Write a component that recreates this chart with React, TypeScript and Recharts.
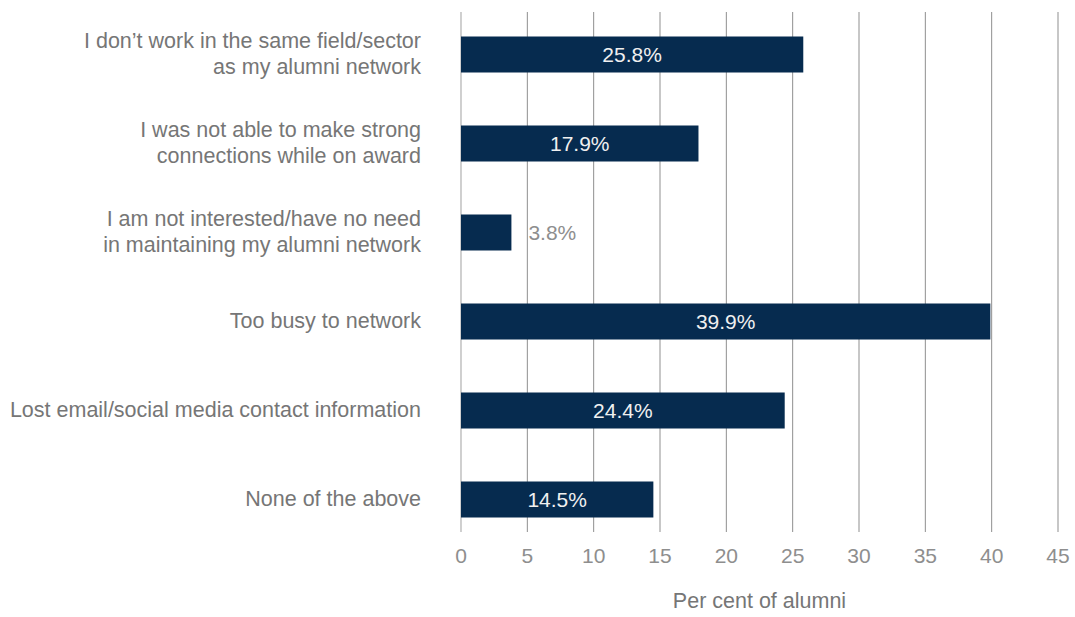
import React from 'react';
import {
  BarChart,
  Bar,
  XAxis,
  YAxis,
  CartesianGrid,
  LabelList,
} from 'recharts';

const categories = [
  "I don\u2019t work in the same field/sector\nas my alumni network",
  'I was not able to make strong\nconnections while on award',
  'I am not interested/have no need\nin maintaining my alumni network',
  'Too busy to network',
  'Lost email/social media contact information',
  'None of the above',
];
const percentages = [25.8, 17.9, 3.8, 39.9, 24.4, 14.5];
const xTicks = [0, 5, 10, 15, 20, 25, 30, 35, 40, 45];
const axisTitle = 'Per cent of alumni';

const data = categories.map((name, i) => ({ name, value: percentages[i] }));

const FONT = '"Liberation Sans", Arial, sans-serif';
const NAVY = '#062b4f';

const CategoryTick = (props: any) => {
  const { y, payload } = props;
  const lines = String(payload.value).split('\n');
  const lineH = 26.5;
  const startY = y - ((lines.length - 1) * lineH) / 2;
  return (
    <text
      x={421}
      y={startY}
      textAnchor="end"
      dominantBaseline="central"
      fontFamily={FONT}
      fontSize={21.5}
      fill="#767676"
    >
      {lines.map((l, i) => (
        <tspan key={i} x={421} dy={i === 0 ? 0 : lineH}>
          {l}
        </tspan>
      ))}
    </text>
  );
};

const ValueTick = (props: any) => {
  const { x, payload } = props;
  return (
    <text
      x={x}
      y={555}
      textAnchor="middle"
      dominantBaseline="central"
      fontFamily={FONT}
      fontSize={21}
      fill="#8e8e8e"
    >
      {payload.value}
    </text>
  );
};

const BarValueLabel = (props: any) => {
  const { x, y, width, height, value } = props;
  const inside = value >= 10;
  return (
    <text
      x={inside ? x + width / 2 : x + width + 17}
      y={y + height / 2}
      textAnchor={inside ? 'middle' : 'start'}
      dominantBaseline="central"
      fontFamily={FONT}
      fontSize={21}
      fill={inside ? '#f0f0f0' : '#8e8e8e'}
    >
      {value.toFixed(1)}%
    </text>
  );
};

const GridLine = (props: any) => {
  const { x1, x2 } = props;
  const isZero = x1 < 462;
  return (
    <line
      key={props.key}
      x1={x1}
      x2={x2}
      y1={12}
      y2={532}
      stroke={isZero ? '#c4c4c4' : '#8f8f8f'}
      strokeWidth={isZero ? 1.6 : 1}
    />
  );
};

export default function App() {
  return (
    <div style={{ position: 'absolute', left: 0, top: 0, background: '#fff' }}>
      <BarChart
        width={1075}
        height={617}
        data={data}
        layout="vertical"
        margin={{ top: 9.5, right: 17, bottom: 23.5, left: 0 }}
        barCategoryGap={0}
      >
        <CartesianGrid horizontal={false} vertical={GridLine} />
        <XAxis
          type="number"
          domain={[0, 45]}
          ticks={xTicks}
          axisLine={false}
          tickLine={false}
          tick={<ValueTick />}
          height={50}
          interval={0}
        />
        <YAxis
          type="category"
          dataKey="name"
          width={461}
          axisLine={false}
          tickLine={false}
          tick={<CategoryTick />}
          interval={0}
        />
        <Bar dataKey="value" fill={NAVY} barSize={36} isAnimationActive={false}>
          <LabelList dataKey="value" content={<BarValueLabel />} />
        </Bar>
        <text
          x={759.5}
          y={601}
          textAnchor="middle"
          dominantBaseline="central"
          fontFamily={FONT}
          fontSize={21.5}
          fill="#767676"
        >
          {axisTitle}
        </text>
      </BarChart>
    </div>
  );
}
